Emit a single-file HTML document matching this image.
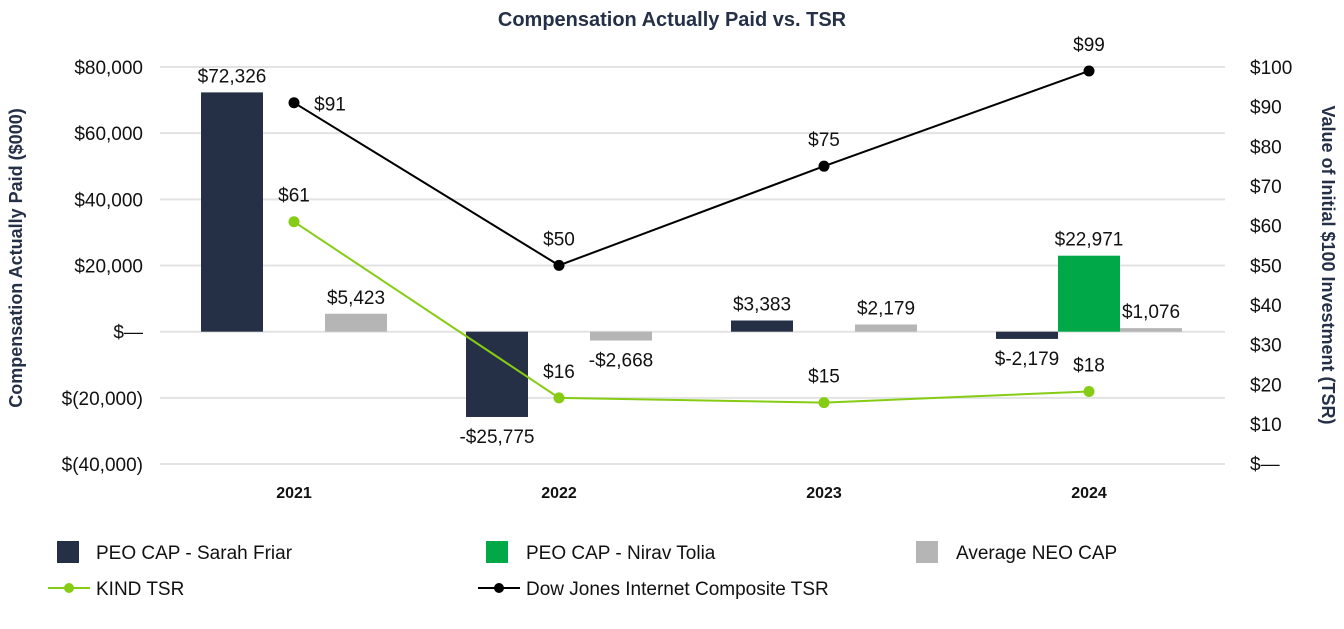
<!DOCTYPE html>
<html><head><meta charset="utf-8"><style>
body{margin:0;background:#fff;font-family:"Liberation Sans",Arial,sans-serif;}
svg text{font-family:"Liberation Sans",Arial,sans-serif;}
</style></head><body>
<svg id="chart" width="1344" height="624" viewBox="0 0 1344 624" xmlns="http://www.w3.org/2000/svg">
<text x="672" y="26" text-anchor="middle" font-size="20" font-weight="bold" fill="#253047">Compensation Actually Paid vs. TSR</text>
<text transform="translate(22,258) rotate(-90)" text-anchor="middle" font-size="18" font-weight="bold" fill="#253047">Compensation Actually Paid ($000)</text>
<text transform="translate(1322,265) rotate(90)" text-anchor="middle" font-size="18" font-weight="bold" fill="#253047">Value of Initial $100 Investment (TSR)</text>
<g id="grid"></g><g id="bars"></g><g id="lines"></g><g id="labels"></g>
<g font-size="19" fill="#111">
<rect x="57" y="541" width="22" height="22" fill="#253047"/><text x="96" y="559">PEO CAP - Sarah Friar</text>
<rect x="486" y="541" width="22" height="22" fill="#00a847"/><text x="526" y="559">PEO CAP - Nirav Tolia</text>
<rect x="916" y="541" width="22" height="22" fill="#b5b5b5"/><text x="956" y="559">Average NEO CAP</text>
<line x1="48" y1="588" x2="90" y2="588" stroke="#86cc14" stroke-width="2"/><circle cx="69" cy="588" r="5" fill="#86cc14"/><text x="96" y="595">KIND TSR</text>
<line x1="478" y1="588" x2="520" y2="588" stroke="#000" stroke-width="2"/><circle cx="499" cy="588" r="5" fill="#000"/><text x="526" y="595">Dow Jones Internet Composite TSR</text>
</g>
</svg>
<script>
const years=["2021","2022","2023","2024"];
const sarah=[72326,-25775,3383,-2179];
const nirav=[0,0,0,22971];
const neo=[5423,-2668,2179,1076];
const sarahLabels=["$72,326","-$25,775","$3,383","$-2,179"];
const niravLabels=["","","","$22,971"];
const neoLabels=["$5,423","-$2,668","$2,179","$1,076"];
const kind=[61,16.6,15.4,18.2];
const dj=[91,50,75,99];
const kindLabels=["$61","$16","$15","$18"];
const djLabels=["$91","$50","$75","$99"];
const leftTicks=[80000,60000,40000,20000,0,-20000,-40000];
const leftTickLabels=["$80,000","$60,000","$40,000","$20,000","$—","$(20,000)","$(40,000)"];
const rightTicks=[100,90,80,70,60,50,40,30,20,10,0];
const rightTickLabels=["$100","$90","$80","$70","$60","$50","$40","$30","$20","$10","$—"];

const NS="http://www.w3.org/2000/svg";
const yL=v=>331.7-v*(264.7/80000);
const yR=v=>463.7-v*3.967;
const xC=i=>161.5+265*(i+0.5);
function mk(t,a,p,txt){const e=document.createElementNS(NS,t);for(const k in a)e.setAttribute(k,a[k]);if(txt!==undefined)e.textContent=txt;p.appendChild(e);return e;}
const G=document.getElementById('grid'),B=document.getElementById('bars'),L=document.getElementById('lines'),T=document.getElementById('labels');
leftTicks.forEach((v,i)=>{
 const l=mk('line',{x1:160,x2:1225,y1:yL(v),y2:yL(v),stroke:'#e3e3e3','stroke-width':2},G);
 
 
 const t=mk('text',{x:143,y:yL(v)+7,'text-anchor':'end','font-size':19,fill:'#111'},G,leftTickLabels[i]);
 
 
});
rightTicks.forEach((v,i)=>{
 const t=mk('text',{x:1250,y:yR(v)+7,'font-size':19,fill:'#111'},G,rightTickLabels[i]);
 
 
});
years.forEach((y,i)=>{
 const t=mk('text',{x:xC(i),y:498,'text-anchor':'middle','font-size':16,'font-weight':'bold',fill:'#111'},G,y);
 
 
});
const series=[[sarah,sarahLabels,'#253047',-62,'bar-sarah-friar'],[nirav,niravLabels,'#00a847',0,'bar-nirav-tolia'],[neo,neoLabels,'#b5b5b5',62,'bar-average-neo']];
series.forEach(([vals,labs,col,off,name])=>{
 vals.forEach((v,i)=>{
  if(v===0)return;
  const x=xC(i)+off-31,y0=yL(0),y1=yL(v);
  const r=mk('rect',{x:x,y:Math.min(y0,y1),width:62,height:Math.max(1,Math.abs(y1-y0)),fill:col},B);
  
  
  const ly=v>0?y1-10:y1+26;
  const t=mk('text',{x:x+31,y:ly,'text-anchor':'middle','font-size':19,fill:'#111'},T,labs[i]);
  
  
 });
});
[[kind,kindLabels,'#86cc14','kind-tsr'],[dj,djLabels,'#000','dow-jones-tsr']].forEach(([vals,labs,col,name])=>{
 const pl=mk('polyline',{points:vals.map((v,i)=>xC(i)+','+yR(v)).join(' '),fill:'none',stroke:col,'stroke-width':2},L);
 
 
 vals.forEach((v,i)=>{
  const c=mk('circle',{cx:xC(i),cy:yR(v),r:5.5,fill:col},L);
  
  
  const right=(name==='dow-jones-tsr'&&i===0);
  const t=mk('text',{x:right?xC(i)+36:xC(i),y:right?yR(v)+8:yR(v)-20,'text-anchor':'middle','font-size':19,fill:'#111'},T,labs[i]);
  
  
 });
});
</script>
</body></html>
